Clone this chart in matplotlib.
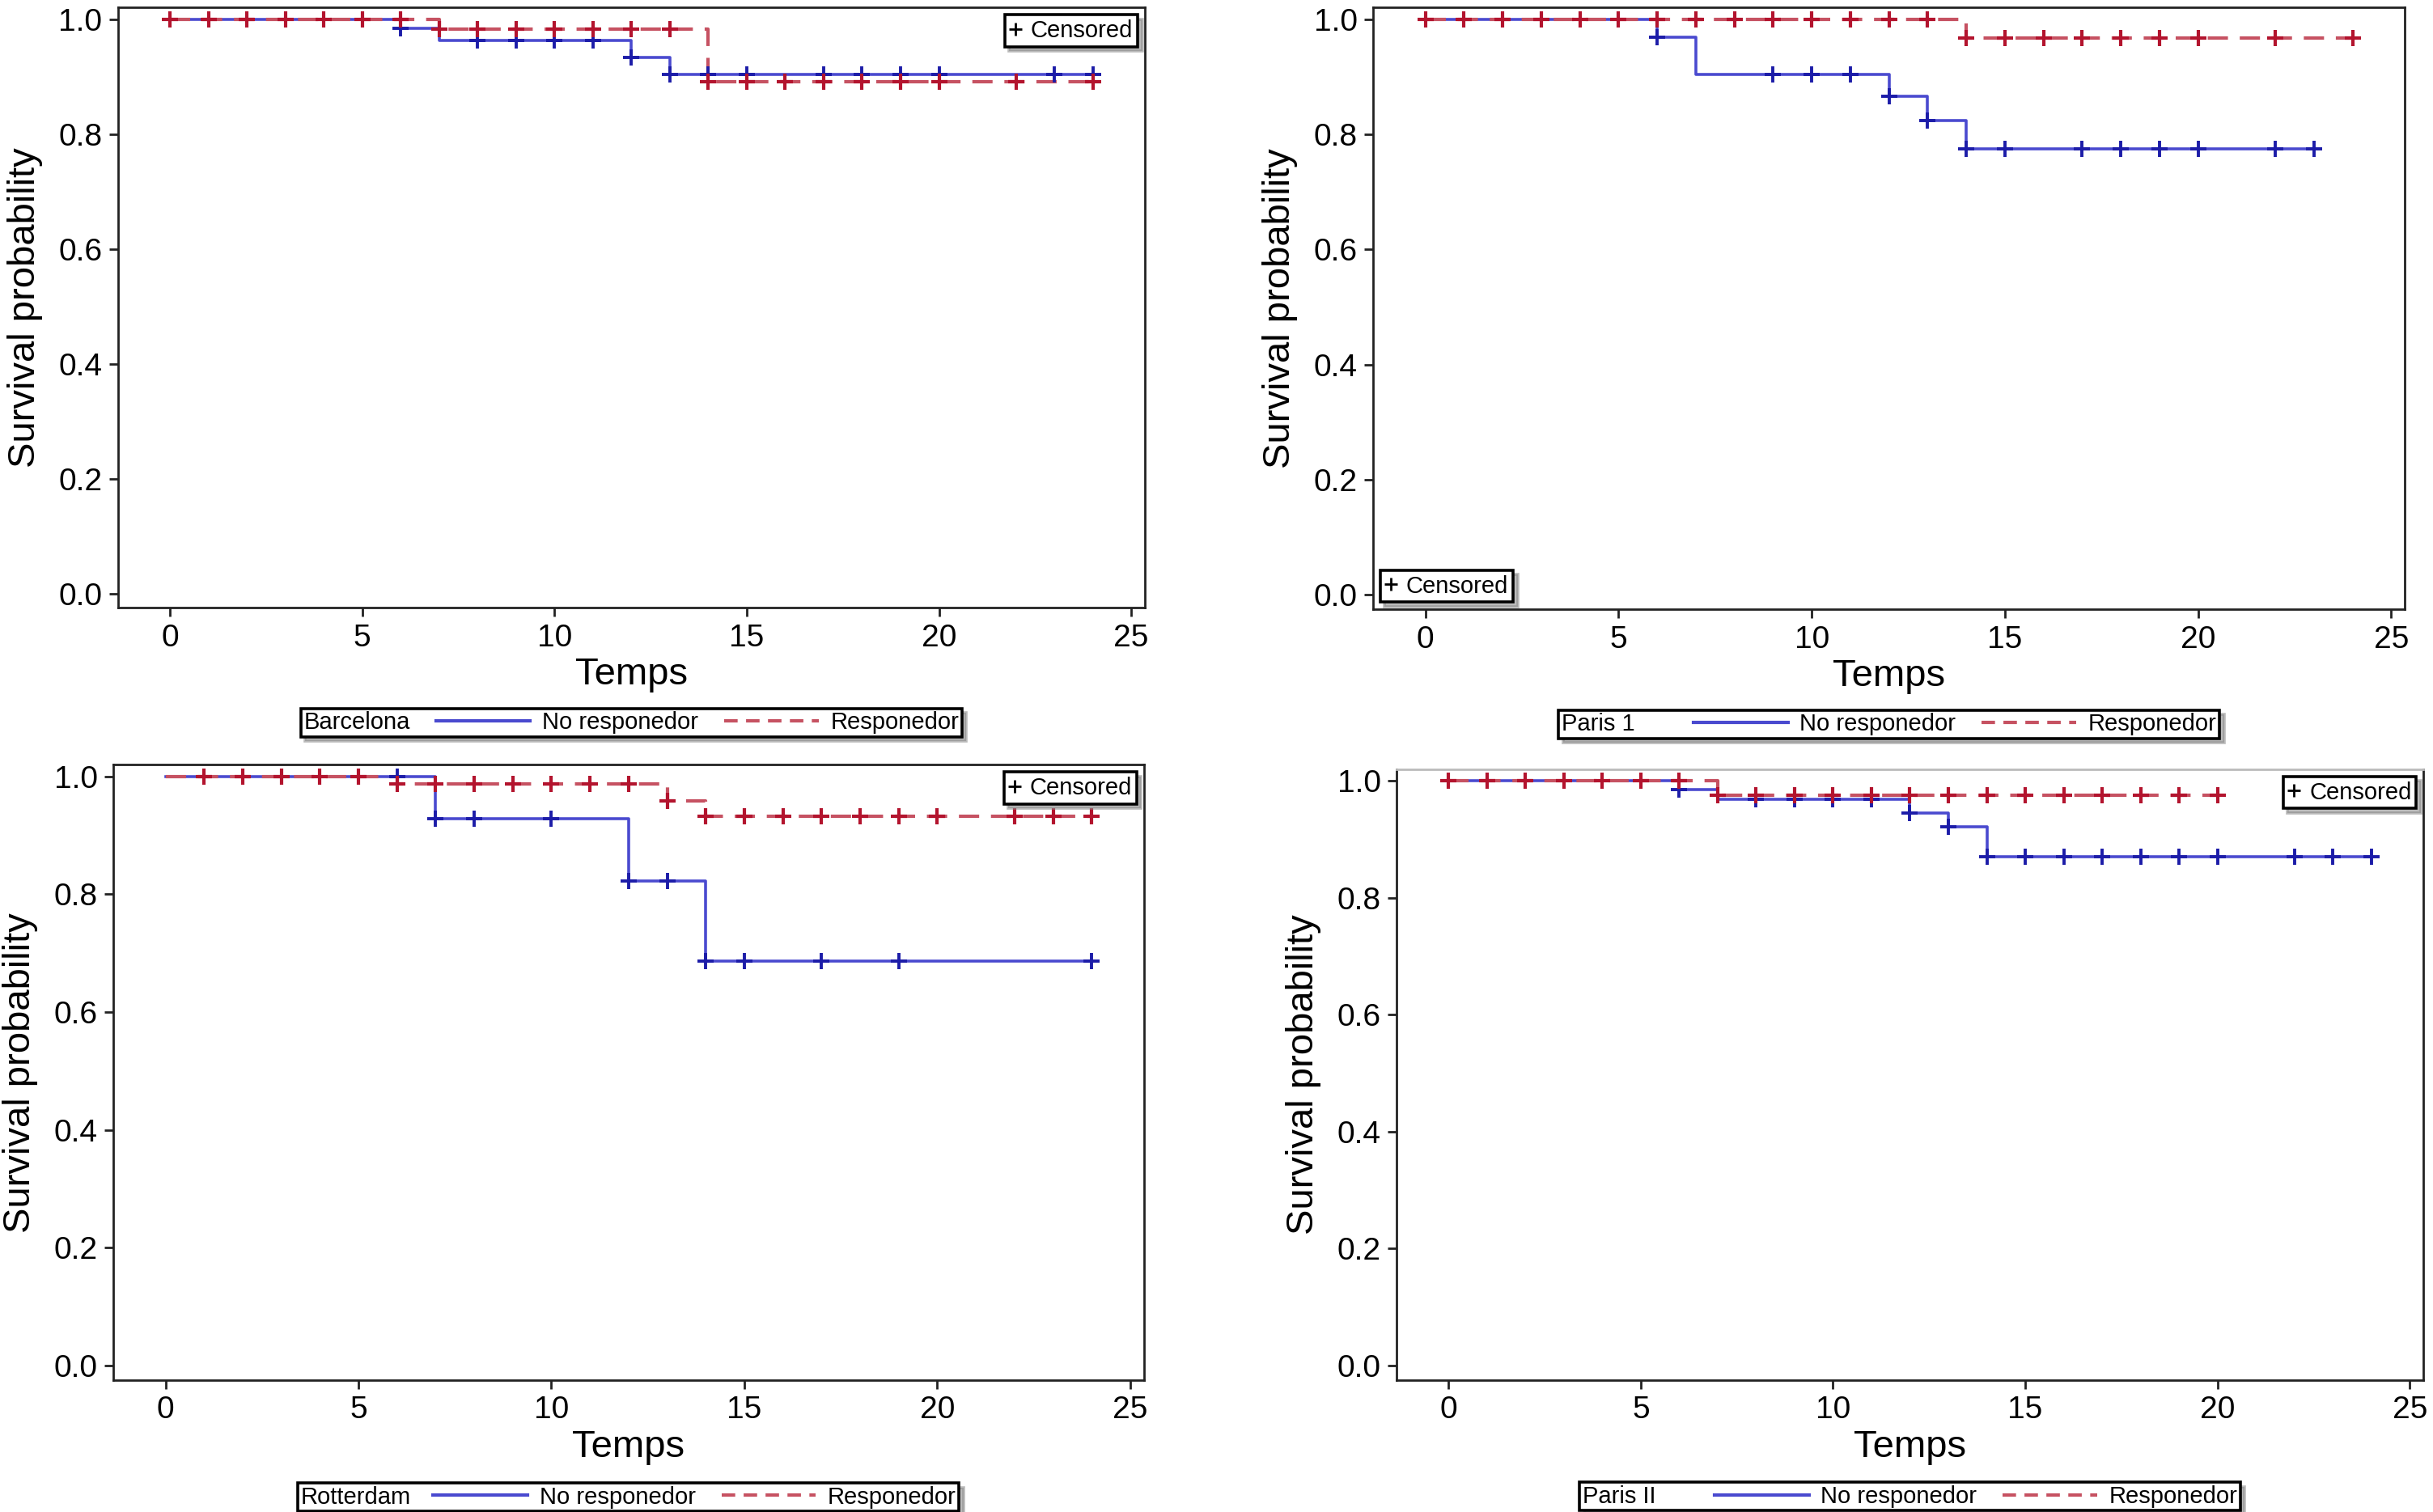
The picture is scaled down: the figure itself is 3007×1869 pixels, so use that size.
import matplotlib
matplotlib.use('Agg')
import matplotlib.pyplot as plt
import matplotlib.text as mtext
from matplotlib.lines import Line2D
from matplotlib.legend_handler import HandlerBase
import numpy as np

# Kaplan-Meier curves per centre: step times / survival after step, censor times
centres = ['Barcelona', 'Paris 1', 'Rotterdam', 'Paris II']

no_resp_times = [
    [0, 6, 7, 12, 13, 24],
    [0, 6, 7, 12, 13, 14, 23],
    [0, 7, 12, 14, 24],
    [0, 6, 7, 12, 13, 14, 24],
]
no_resp_surv = [
    [1.0, 0.984, 0.963, 0.933, 0.904, 0.904],
    [1.0, 0.969, 0.904, 0.866, 0.824, 0.775, 0.775],
    [1.0, 0.928, 0.823, 0.686, 0.686],
    [1.0, 0.985, 0.969, 0.945, 0.921, 0.870, 0.870],
]
no_resp_cens = [
    [6, 8, 9, 10, 11, 12, 13, 14, 15, 17, 18, 19, 20, 23, 24],
    [6, 9, 10, 11, 12, 13, 14, 15, 17, 18, 19, 20, 22, 23],
    [6, 7, 8, 10, 12, 13, 14, 15, 17, 19, 24],
    [6, 8, 9, 10, 11, 12, 13, 14, 15, 16, 17, 18, 19, 20, 22, 23, 24],
]

resp_times = [
    [0, 7, 14, 24],
    [0, 14, 24],
    [0, 6, 13, 14, 24],
    [0, 7, 20],
]
resp_surv = [
    [1.0, 0.982, 0.891, 0.891],
    [1.0, 0.967, 0.967],
    [1.0, 0.987, 0.959, 0.932, 0.932],
    [1.0, 0.975, 0.975],
]
resp_cens = [
    [0, 1, 2, 3, 4, 5, 6, 7, 8, 9, 10, 11, 12, 13, 14, 15, 16, 17, 18, 19, 20, 22, 24],
    [0, 1, 2, 3, 4, 5, 6, 7, 8, 9, 10, 11, 12, 13, 14, 15, 16, 17, 18, 19, 20, 22, 24],
    [1, 2, 3, 4, 5, 6, 7, 8, 9, 10, 11, 12, 13, 14, 15, 16, 17, 18, 19, 20, 22, 23, 24],
    [0, 1, 2, 3, 4, 5, 6, 7, 8, 9, 10, 11, 12, 13, 14, 15, 16, 17, 18, 19, 20],
]

x_ticks = [0, 5, 10, 15, 20, 25]
y_ticks = [0.0, 0.2, 0.4, 0.6, 0.8, 1.0]

# where the "+ Censored" box sits in each panel
cens_loc = ['upper right', 'lower left', 'upper right', 'upper right']

# axes rectangles (fig fraction)
positions = [
    [0.0485, 0.598, 0.422, 0.397],
    [0.5644, 0.597, 0.424, 0.398],
    [0.0466, 0.0872, 0.4235, 0.407],
    [0.574, 0.0872, 0.422, 0.404],
]

BLUE = '#4a4acf'
BLUE_MK = '#1c1ca8'
RED = '#c65262'
RED_MK = '#b3142e'
NARROW = ['Liberation Sans Narrow', 'Liberation Sans', 'DejaVu Sans']
REGULAR = ['Liberation Sans', 'DejaVu Sans']


class TextHandle(HandlerBase):
    # draws the centre name where a handle would normally go
    def __init__(self, text):
        super().__init__()
        self.text = text

    def legend_artist(self, legend, orig_handle, fontsize, handlebox):
        x0, y0 = -handlebox.xdescent, -handlebox.ydescent
        t = mtext.Text(x0, y0 + handlebox.height * 0.4, self.text, fontsize=fontsize,
                       family=NARROW, va='center', ha='left')
        handlebox.add_artist(t)
        return t


def surv_at(times, surv, t):
    idx = np.searchsorted(times, t, side='right') - 1
    return np.asarray(surv)[idx]


def main():
    fig = plt.figure(figsize=(3007 / 200, 1869 / 200), dpi=200)

    for i, name in enumerate(centres):
        ax = fig.add_axes(positions[i])

        ax.step(no_resp_times[i], no_resp_surv[i], where='post', color=BLUE, lw=1.3, zorder=2)
        ax.step(resp_times[i], resp_surv[i], where='post', color=RED, lw=1.5,
                dashes=(6, 3.5), zorder=3)

        yb = surv_at(no_resp_times[i], no_resp_surv[i], no_resp_cens[i])
        ax.plot(no_resp_cens[i], yb, ls='none', marker='+', ms=7, mew=1.4, color=BLUE_MK, zorder=4)
        yr = surv_at(resp_times[i], resp_surv[i], resp_cens[i])
        ax.plot(resp_cens[i], yr, ls='none', marker='+', ms=7, mew=1.5, color=RED_MK, zorder=5)

        ax.set_xlim(-1.35, 25.35)
        ax.set_ylim(-0.025, 1.02)
        ax.set_xticks(x_ticks)
        ax.set_yticks(y_ticks)
        ax.set_yticklabels([f'{v:.1f}' for v in y_ticks])
        for lab in ax.get_xticklabels() + ax.get_yticklabels():
            lab.set_family(NARROW)
            lab.set_fontsize(14)
        ax.tick_params(direction='out', length=4, width=1.0, pad=3, color='#222222')

        for sp in ax.spines.values():
            sp.set_linewidth(1.0)
            sp.set_color('#222222')
        if i == 3:
            ax.spines['top'].set_color('#bbbbbb')

        ax.set_xlabel('Temps', fontsize=17, family=REGULAR, labelpad=2)
        ax.set_ylabel('Survival probability', fontsize=17, family=REGULAR, labelpad=7)

        # "+ Censored" box
        cens = ax.legend(handles=[Line2D([], [], ls='none', marker='+', color='black', ms=6, mew=1.0)],
                         labels=['Censored'], loc=cens_loc[i],
                         prop={'family': NARROW, 'size': 10.5},
                         handlelength=0.5, handletextpad=0.4, borderpad=0.2,
                         borderaxespad=0.3, fancybox=False, framealpha=1,
                         edgecolor='black', shadow={'color': '0.55', 'alpha': 0.6})
        cens.get_frame().set_linewidth(1.3)
        ax.add_artist(cens)

        # group legend below the axes
        title_handle = Line2D([], [], color='none')
        leg = ax.legend(handles=[title_handle,
                                 Line2D([], [], color=BLUE, lw=1.5),
                                 Line2D([], [], color=RED, lw=1.5, dashes=(4, 2.5))],
                        labels=['', 'No responedor', 'Responedor'],
                        handler_map={title_handle: TextHandle(name)},
                        ncol=3, loc='upper center', bbox_to_anchor=(0.5, -0.148),
                        prop={'family': NARROW, 'size': 10.5},
                        handlelength=4.0, handletextpad=0.5, columnspacing=1.1,
                        borderpad=0.12, fancybox=False, framealpha=1, edgecolor='black',
                        shadow={'color': '0.55', 'alpha': 0.6})
        leg.get_frame().set_linewidth(1.3)

    fig.savefig('out.png', dpi=200)


if __name__ == "__main__":
    main()
